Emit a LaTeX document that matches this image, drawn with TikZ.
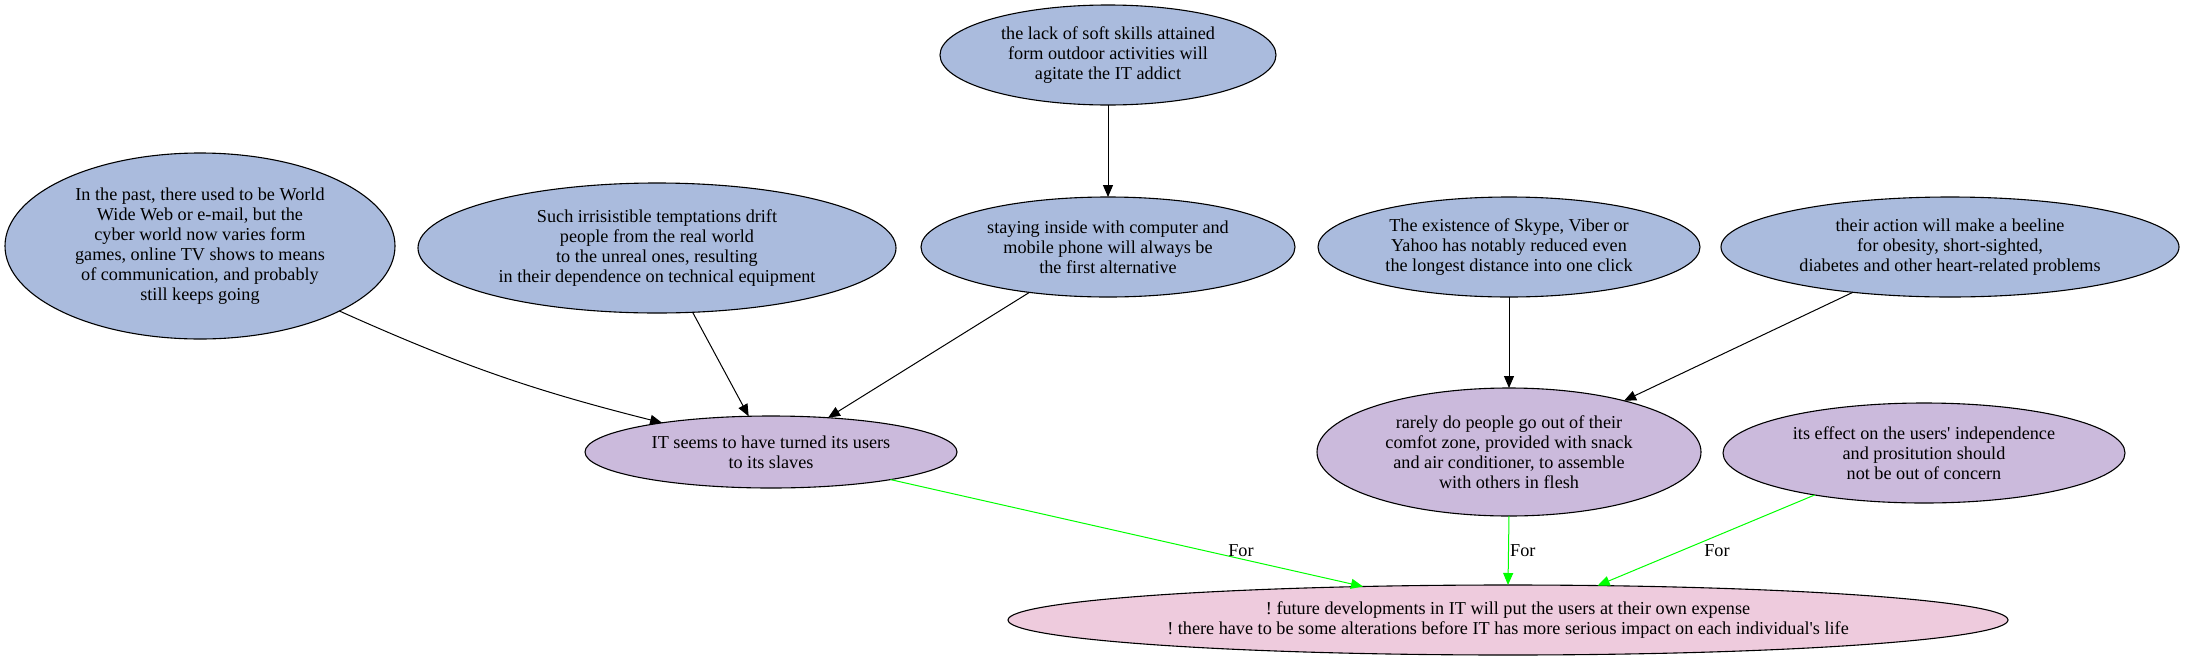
\documentclass[tikz,border=0pt]{standalone}
\usepackage{fontspec}
\setmainfont{Liberation Serif}
\frenchspacing
\usetikzlibrary{arrows.meta,shapes.geometric}
\definecolor{nblue}{HTML}{AABBDD}
\definecolor{npurple}{HTML}{CBBADC}
\definecolor{npink}{HTML}{EECBDD}
\definecolor{egreen}{HTML}{00FF00}
\begin{document}
\begin{tikzpicture}[x=1pt,y=-1pt,
  txt/.style={font=\fontsize{18.2}{20}\selectfont},
  bub/.style={txt, ellipse, draw=black, line width=1.1pt, inner sep=0pt, outer sep=0pt, align=center},
  bluebub/.style={bub, fill=nblue},
  purpbub/.style={bub, fill=npurple},
  pinkbub/.style={bub, fill=npink},
  conn/.style={draw=black, line width=1pt, -{Triangle[length=12pt,width=10pt]}},
  forconn/.style={draw=egreen, line width=1pt, -{Triangle[length=12pt,width=10pt]}},
  lbl/.style={txt, inner sep=0pt}
]
\useasboundingbox (0,0) rectangle (2185,662);
\node[bluebub, minimum width=336pt, minimum height=100pt] (T) at (1108,55)
  {the lack of soft skills attained\\form outdoor activities will\\agitate the IT addict};
\node[bluebub, minimum width=374pt, minimum height=100pt] (D) at (1108,247)
  {staying inside with computer and\\mobile phone will always be\\the first alternative};
\node[bluebub, minimum width=390pt, minimum height=186pt] (A) at (200,246)
  {In the past, there used to be World\\Wide Web or e-mail, but the\\cyber world now varies form\\games, online TV shows to means\\of communication, and probably\\still keeps going};
\node[bluebub, minimum width=478pt, minimum height=130pt] (B) at (657,248)
  {Such irrisistible temptations drift\\people from the real world\\to the unreal ones, resulting\\in their dependence on technical equipment};
\node[purpbub, minimum width=372pt, minimum height=72pt] (C) at (771,452)
  {IT seems to have turned its users\\to its slaves};
\node[bluebub, minimum width=382pt, minimum height=100pt] (E) at (1509,247)
  {The existence of Skype, Viber or\\Yahoo has notably reduced even\\the longest distance into one click};
\node[bluebub, minimum width=458pt, minimum height=100pt] (F) at (1950,247)
  {their action will make a beeline\\for obesity, short-sighted,\\diabetes and other heart-related problems};
\node[purpbub, minimum width=384pt, minimum height=128pt] (G) at (1509,452)
  {rarely do people go out of their\\comfot zone, provided with snack\\and air conditioner, to assemble\\with others in flesh};
\node[purpbub, minimum width=402pt, minimum height=100pt] (H) at (1924,453)
  {its effect on the users\textquotesingle{} independence\\and prositution should\\not be out of concern};
\node[pinkbub, minimum width=1000pt, minimum height=70pt] (I) at (1508,620)
  {! future developments in IT will put the users at their own expense\\! there have to be some alterations before IT has more serious impact on each individual\textquotesingle s life};

\draw[conn] (T.south) -- (D.north);
\draw[conn] (A.-25.6) to[bend right=5] (C.165);
\draw[conn] (B.-61.3) -- (C.122);
\draw[conn] (D.210.5) -- (C.31);
\draw[conn] (E.south) -- (G.north);
\draw[conn] (F.205.4) -- (G.24.7);
\draw[forconn] (C.-13.2) -- (I.167.6);
\draw[forconn] (G.south) -- (I.north);
\draw[forconn] (H.201.6) -- (I.21.7);
\node[lbl] (l1) at (1241,551) {For};
\node[lbl, anchor=west] (l2) at (1510,551) {For};
\node[lbl] (l3) at (1717,551) {For};
\end{tikzpicture}
\end{document}
